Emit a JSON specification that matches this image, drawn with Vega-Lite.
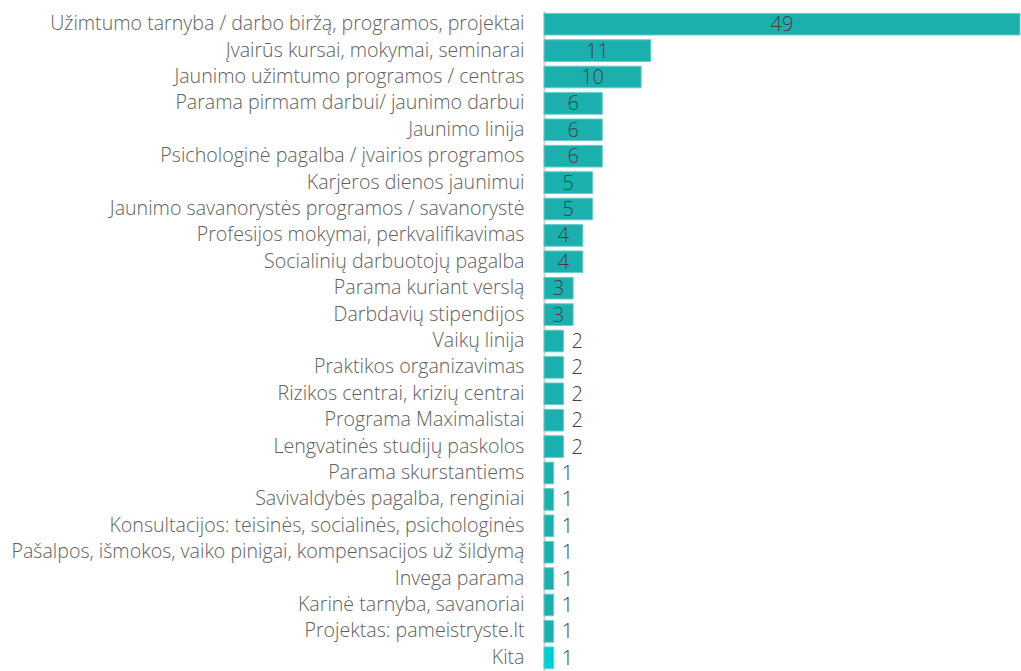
{
  "$schema": "https://vega.github.io/schema/vega-lite/v6.json",
  "width": 476,
  "height": 660,
  "autosize": {"type": "none"},
  "padding": {"left": 544, "top": 11, "right": 1, "bottom": 0},
  "background": "white",
  "config": {"view": {"stroke": null}},
  "data": {"values": [
    {"label": "Užimtumo tarnyba / darbo biržą, programos, projektai", "value": 49},
    {"label": "Įvairūs kursai, mokymai, seminarai", "value": 11},
    {"label": "Jaunimo užimtumo programos / centras", "value": 10},
    {"label": "Parama pirmam darbui/ jaunimo darbui", "value": 6},
    {"label": "Jaunimo linija", "value": 6},
    {"label": "Psichologinė pagalba / įvairios programos", "value": 6},
    {"label": "Karjeros dienos jaunimui", "value": 5},
    {"label": "Jaunimo savanorystės programos / savanorystė", "value": 5},
    {"label": "Profesijos mokymai, perkvalifikavimas", "value": 4},
    {"label": "Socialinių darbuotojų pagalba", "value": 4},
    {"label": "Parama kuriant verslą", "value": 3},
    {"label": "Darbdavių stipendijos", "value": 3},
    {"label": "Vaikų linija", "value": 2},
    {"label": "Praktikos organizavimas", "value": 2},
    {"label": "Rizikos centrai, krizių centrai", "value": 2},
    {"label": "Programa Maximalistai", "value": 2},
    {"label": "Lengvatinės studijų paskolos", "value": 2},
    {"label": "Parama skurstantiems", "value": 1},
    {"label": "Savivaldybės pagalba, renginiai", "value": 1},
    {"label": "Konsultacijos: teisinės, socialinės, psichologinės", "value": 1},
    {"label": "Pašalpos, išmokos, vaiko pinigai, kompensacijos už šildymą", "value": 1},
    {"label": "Invega parama", "value": 1},
    {"label": "Karinė tarnyba, savanoriai", "value": 1},
    {"label": "Projektas: pameistryste.lt", "value": 1},
    {"label": "Kita", "value": 1}
  ]},
  "encoding": {
    "y": {
      "field": "label", "type": "nominal", "sort": null,
      "scale": {"paddingInner": 0.18, "paddingOuter": 0.09},
      "axis": {
        "title": null, "ticks": false, "labelPadding": 20,
        "labelFont": "Open Sans", "labelFontWeight": 300, "labelFontSize": 19.6,
        "labelColor": "#606060", "labelLimit": 600,
        "domainColor": "#d0d0d0", "domainWidth": 2
      }
    },
    "x": {
      "field": "value", "type": "quantitative",
      "scale": {"domain": [0, 49], "nice": false},
      "axis": null
    }
  },
  "layer": [
    {
      "mark": {"type": "bar", "strokeWidth": 1},
      "encoding": {
        "color": {
          "condition": {"test": "datum.label === 'Kita'", "value": "#00CED4"},
          "value": "#1BB0AE"
        },
        "stroke": {
          "condition": {"test": "datum.label === 'Kita'", "value": "#40DCE0"},
          "value": "#6CCBC9"
        }
      }
    },
    {
      "transform": [
        {"filter": "datum.value >= 3"},
        {"calculate": "datum.value / 2", "as": "mid"}
      ],
      "mark": {"type": "text", "align": "center", "baseline": "middle", "font": "Open Sans", "fontWeight": 300, "fontSize": 20, "color": "#404040", "dy": 1},
      "encoding": {
        "x": {"field": "mid", "type": "quantitative"},
        "text": {"field": "value", "type": "quantitative"}
      }
    },
    {
      "transform": [{"filter": "datum.value < 3"}],
      "mark": {"type": "text", "align": "left", "baseline": "middle", "font": "Open Sans", "fontWeight": 300, "fontSize": 20, "color": "#404040", "dx": 8, "dy": 1},
      "encoding": {
        "text": {"field": "value", "type": "quantitative"}
      }
    }
  ]
}
